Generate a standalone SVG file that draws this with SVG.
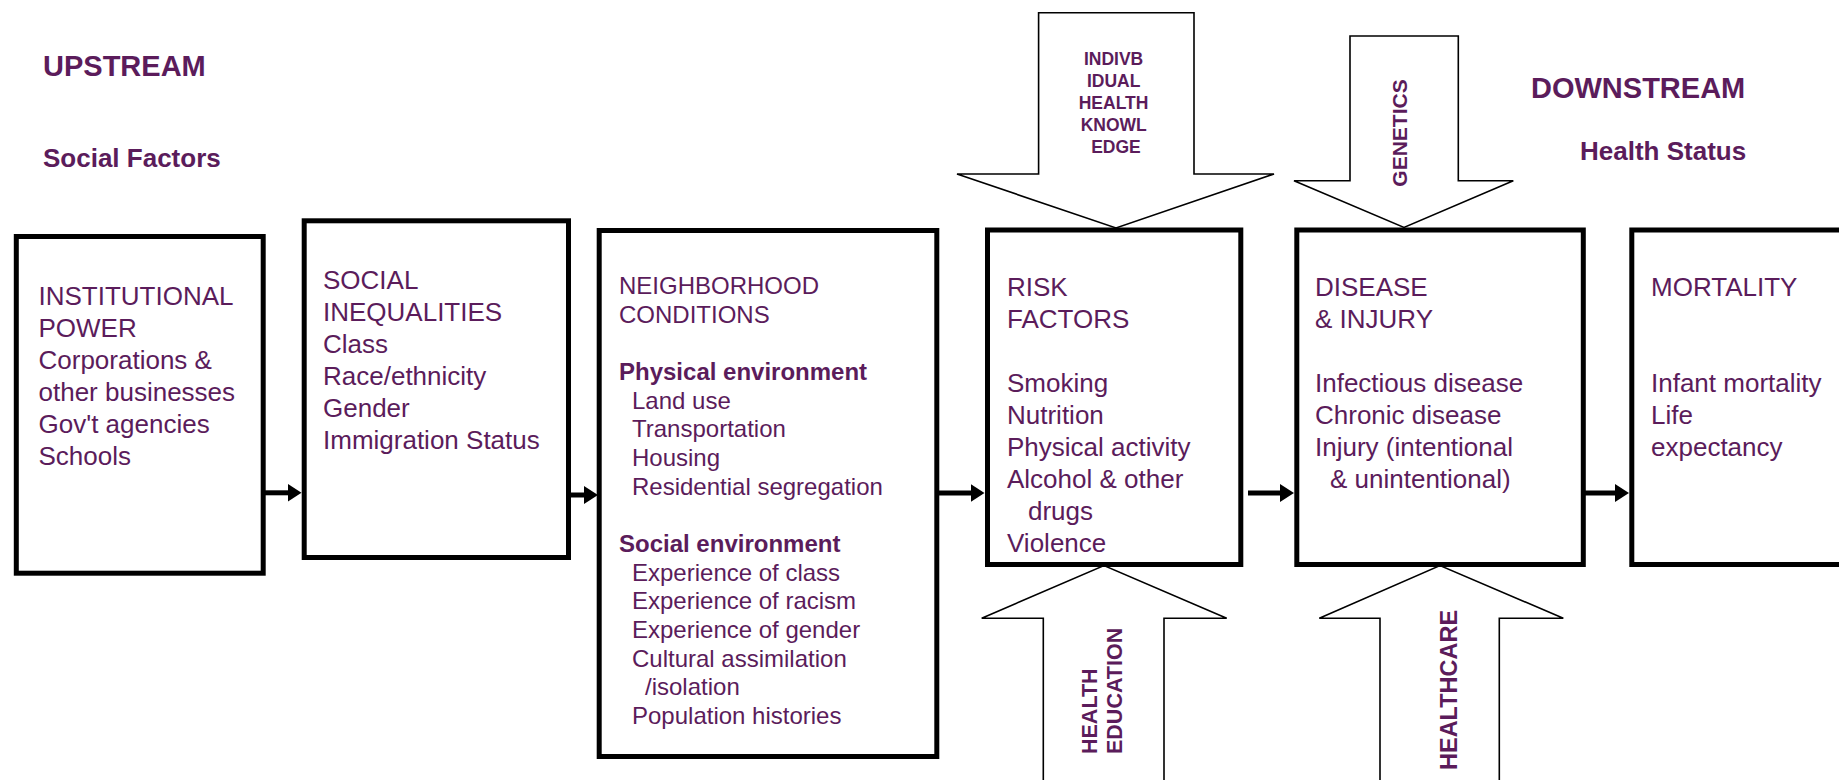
<svg xmlns="http://www.w3.org/2000/svg" width="1839" height="780" viewBox="0 0 1839 780">
<defs>
<style>
.box{fill:#fff;stroke:#000;stroke-width:5}
.blk{fill:#fff;stroke:#000;stroke-width:1.6;stroke-linejoin:miter}
.t{font-family:"Liberation Sans",Arial,Helvetica,sans-serif;fill:#5b1c5b;font-size:26px}
.t3{font-family:"Liberation Sans",Arial,Helvetica,sans-serif;fill:#5b1c5b;font-size:24px}
.b{font-weight:bold}
.hdr{font-family:"Liberation Sans",Arial,Helvetica,sans-serif;fill:#5b1c5b;font-weight:bold;font-size:29px}
.sub{font-family:"Liberation Sans",Arial,Helvetica,sans-serif;fill:#5b1c5b;font-weight:bold;font-size:26px}
.lbl{font-family:"Liberation Sans",Arial,Helvetica,sans-serif;fill:#5b1c5b;font-weight:bold}
.conn{stroke:#000;stroke-width:5;fill:none}
</style>
<marker id="ah" markerUnits="userSpaceOnUse" markerWidth="15" markerHeight="18" refX="0.5" refY="9" orient="auto">
<path d="M0,0 L14,9 L0,18 Z" fill="#000"/>
</marker>
</defs>
<rect width="1839" height="780" fill="#fff"/>

<g id="headers">
<text class="hdr" x="43" y="76">UPSTREAM</text>
<text class="sub" x="43" y="167">Social Factors</text>
<text class="hdr" x="1531" y="98">DOWNSTREAM</text>
<text class="sub" x="1580" y="160">Health Status</text>
</g>

<g id="arrow-knowledge">
<polygon class="blk" points="1038.6,12.7 1194,12.7 1194,174 1274,174 1116,228 957,174 1038.6,174"/>
<text class="lbl" font-size="17.5" text-anchor="middle">
<tspan x="1116" y="65">INDIVB</tspan>
<tspan x="1116" y="87">IDUAL</tspan>
<tspan x="1116" y="109">HEALTH</tspan>
<tspan x="1116" y="131">KNOWL</tspan>
<tspan x="1116" y="153">EDGE</tspan>
</text>
</g>

<g id="arrow-genetics">
<polygon class="blk" points="1350,36 1458.3,36 1458.3,180.7 1513.3,180.7 1404,227.5 1294,180.7 1350,180.7"/>
<text class="lbl" font-size="21" transform="translate(1406.7,186.7) rotate(-90)" x="0" y="0">GENETICS</text>
</g>

<g id="arrow-healtheducation">
<polygon class="blk" points="1043.3,783 1043.3,618.3 981.7,618.3 1104,565.5 1226.7,618.3 1164,618.3 1164,783"/>
<text class="lbl" font-size="21.5" transform="translate(1096.7,754) rotate(-90)">
<tspan x="0" y="0">HEALTH</tspan>
<tspan x="0" y="25.6">EDUCATION</tspan>
</text>
</g>

<g id="arrow-healthcare">
<polygon class="blk" points="1380,783 1380,618.3 1319.3,618.3 1440,565.5 1563.3,618.3 1499.3,618.3 1499.3,783"/>
<text class="lbl" font-size="23.5" transform="translate(1456.7,770) rotate(-90)" x="0" y="0">HEALTHCARE</text>
</g>

<g id="connectors">
<line class="conn" x1="263" y1="492.8" x2="288" y2="492.8" marker-end="url(#ah)"/>
<line class="conn" x1="568" y1="495" x2="584.5" y2="495" marker-end="url(#ah)"/>
<line class="conn" x1="937" y1="493" x2="971" y2="493" marker-end="url(#ah)"/>
<line class="conn" x1="1248" y1="493" x2="1280.5" y2="493" marker-end="url(#ah)"/>
<line class="conn" x1="1583" y1="493" x2="1615.5" y2="493" marker-end="url(#ah)"/>
</g>

<g id="institutional-power">
<rect class="box" x="16.3" y="236.5" width="246.9" height="336.7"/>
<text class="t">
<tspan x="38.5" y="305">INSTITUTIONAL</tspan>
<tspan x="38.5" y="337">POWER</tspan>
<tspan x="38.5" y="369">Corporations &amp;</tspan>
<tspan x="38.5" y="401">other businesses</tspan>
<tspan x="38.5" y="433">Gov't agencies</tspan>
<tspan x="38.5" y="465">Schools</tspan>
</text>
</g>

<g id="social-inequalities">
<rect class="box" x="304.2" y="220.8" width="264.3" height="336.7"/>
<text class="t">
<tspan x="323" y="288.5">SOCIAL</tspan>
<tspan x="323" y="320.5">INEQUALITIES</tspan>
<tspan x="323" y="352.5">Class</tspan>
<tspan x="323" y="384.5">Race/ethnicity</tspan>
<tspan x="323" y="416.5">Gender</tspan>
<tspan x="323" y="448.5">Immigration Status</tspan>
</text>
</g>

<g id="neighborhood-conditions">
<rect class="box" x="599.2" y="230.5" width="337.6" height="526"/>
<text class="t3">
<tspan x="619" y="294">NEIGHBORHOOD</tspan>
<tspan x="619" y="322.7">CONDITIONS</tspan>
<tspan x="619" y="380" class="b">Physical environment</tspan>
<tspan x="632" y="408.7">Land use</tspan>
<tspan x="632" y="437.4">Transportation</tspan>
<tspan x="632" y="466">Housing</tspan>
<tspan x="632" y="494.7">Residential segregation</tspan>
<tspan x="619" y="552" class="b">Social environment</tspan>
<tspan x="632" y="580.7">Experience of class</tspan>
<tspan x="632" y="609.4">Experience of racism</tspan>
<tspan x="632" y="638">Experience of gender</tspan>
<tspan x="632" y="666.7">Cultural assimilation</tspan>
<tspan x="645" y="695.4">/isolation</tspan>
<tspan x="632" y="724">Population histories</tspan>
</text>
</g>

<g id="risk-factors">
<rect class="box" x="987.5" y="230" width="253.3" height="334.5"/>
<text class="t">
<tspan x="1007" y="296">RISK</tspan>
<tspan x="1007" y="328">FACTORS</tspan>
<tspan x="1007" y="392">Smoking</tspan>
<tspan x="1007" y="424">Nutrition</tspan>
<tspan x="1007" y="456">Physical activity</tspan>
<tspan x="1007" y="488">Alcohol &amp; other</tspan>
<tspan x="1028" y="520">drugs</tspan>
<tspan x="1007" y="552">Violence</tspan>
</text>
</g>

<g id="disease-injury">
<rect class="box" x="1296.8" y="230" width="286.5" height="334.5"/>
<text class="t">
<tspan x="1315" y="296">DISEASE</tspan>
<tspan x="1315" y="328">&amp; INJURY</tspan>
<tspan x="1315" y="392">Infectious disease</tspan>
<tspan x="1315" y="424">Chronic disease</tspan>
<tspan x="1315" y="456">Injury (intentional</tspan>
<tspan x="1330" y="488">&amp; unintentional)</tspan>
</text>
</g>

<g id="mortality">
<rect class="box" x="1631.8" y="230" width="300" height="334.5"/>
<text class="t">
<tspan x="1651" y="296">MORTALITY</tspan>
<tspan x="1651" y="392">Infant mortality</tspan>
<tspan x="1651" y="424">Life</tspan>
<tspan x="1651" y="456">expectancy</tspan>
</text>
</g>
</svg>
